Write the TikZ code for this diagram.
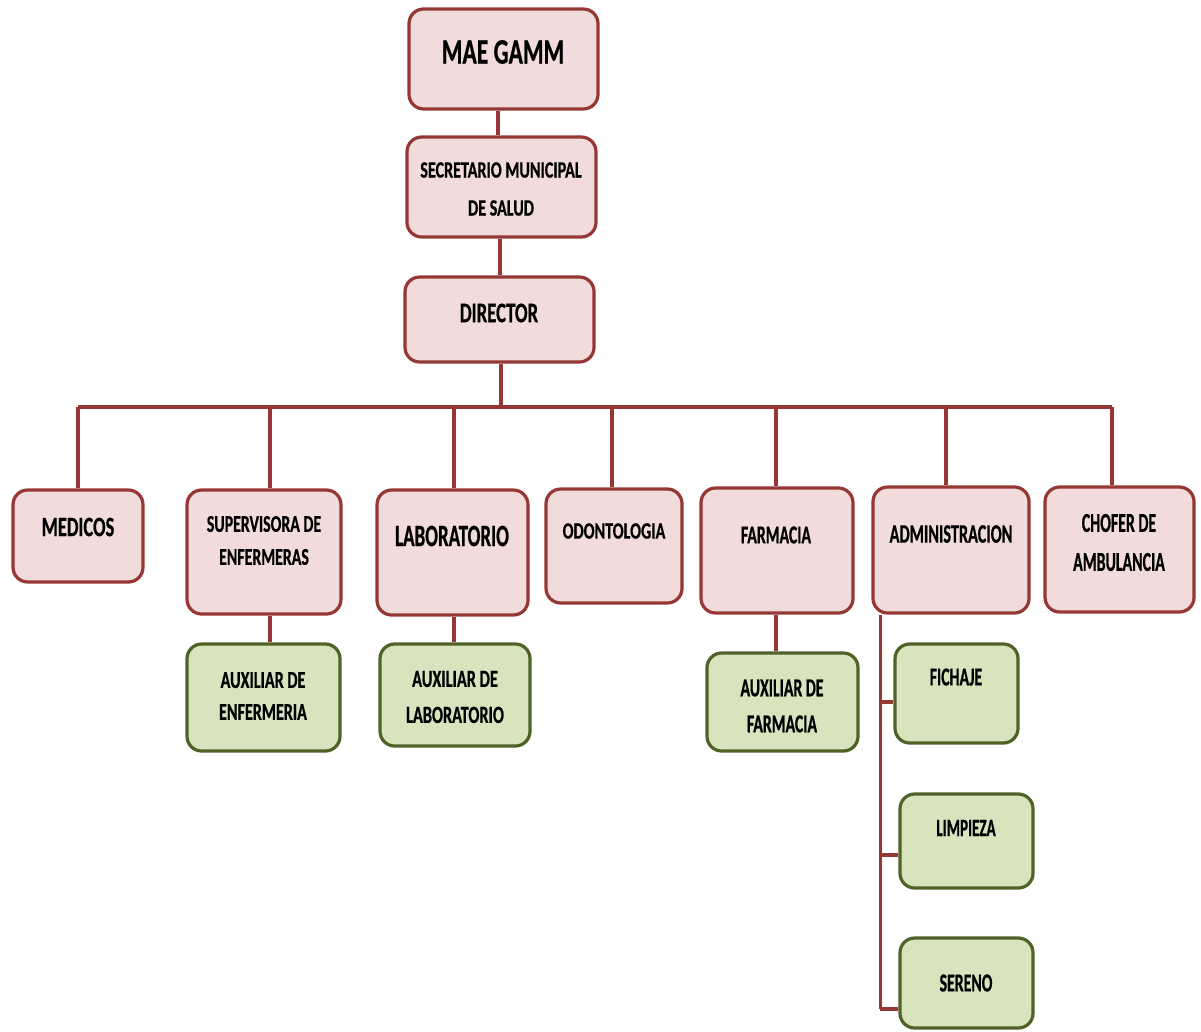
\documentclass[tikz,border=0pt]{standalone}
\usepackage{fontspec}
\newfontfamily\cfA{Carlito}[FakeStretch=0.58, BoldFeatures={FakeBold=0.6}]
\newfontfamily\cfB{Carlito}[FakeStretch=0.61, BoldFeatures={FakeBold=0.6}]
\newfontfamily\cfC{Carlito}[FakeStretch=0.66, BoldFeatures={FakeBold=0.6}]
\newfontfamily\cfD{Carlito}[FakeStretch=0.69, BoldFeatures={FakeBold=0.6}]
\usetikzlibrary{calc}
\definecolor{dred}{HTML}{953735}
\definecolor{pinkf}{HTML}{F2DCDB}
\definecolor{grnf}{HTML}{D7E4BD}
\definecolor{grnd}{HTML}{4F6228}
\begin{document}
\begin{tikzpicture}[x=0.75pt,y=-0.75pt,
 box/.style={rounded corners=11pt, line width=2.4pt, inner sep=0pt},
 pinkbox/.style={box, draw=dred, fill=pinkf},
 greenbox/.style={box, draw=grnd, fill=grnf},
 wh/.style 2 args={minimum width=#1*0.75pt, minimum height=#2*0.75pt},
 lbl/.style n args={3}{inner sep=0pt, align=center, font=#1\bfseries\fontsize{#2}{#3}\selectfont},
 conn/.style={draw=dred, line width=2.4pt},
 tickline/.style={draw=dred, line width=3.6pt},
]
\useasboundingbox (0,0) rectangle (1201,1031);

\coordinate (busL) at (78,407);
\coordinate (busR) at (1112,407);

% boxes
\node[pinkbox, wh={189}{100}] (mae) at (503.5,59) {};
\node[pinkbox, wh={189}{100}] (sec) at (501.5,187) {};
\node[pinkbox, wh={189}{85}] (dir) at (499.5,319.5) {};
\node[pinkbox, wh={130}{92}] (med) at (78,536) {};
\node[pinkbox, wh={154}{124}] (sup) at (264,552) {};
\node[pinkbox, wh={151}{125}] (lab) at (452.5,552.5) {};
\node[pinkbox, wh={136}{114}] (odo) at (614,546) {};
\node[pinkbox, wh={152}{125}] (far) at (777,550.5) {};
\node[pinkbox, wh={156}{126}] (adm) at (951,550) {};
\node[pinkbox, wh={149}{125}] (cho) at (1119.5,549.5) {};
\node[greenbox, wh={153}{107}] (aen) at (263.5,697.5) {};
\node[greenbox, wh={150}{102}] (ala) at (455,695) {};
\node[greenbox, wh={151}{98}] (afa) at (782.5,702) {};
\node[greenbox, wh={123}{99}] (fic) at (956.5,693.5) {};
\node[greenbox, wh={133}{94}] (lim) at (966.5,841) {};
\node[greenbox, wh={133}{90}] (ser) at (966.5,983) {};

% connectors
\draw[conn] ([xshift=-4.1pt]mae.south) -- ([xshift=-4.1pt]mae.south |- sec.north);
\draw[conn] ([xshift=-1.1pt]sec.south) -- ([xshift=-1.1pt]sec.south |- dir.north);
\draw[conn] ([xshift=1.1pt]dir.south) -- ([xshift=1.1pt]dir.south |- busL);
\draw[conn] (busL) -- (busR);
\draw[conn] (med.north |- busL) -- (med.north);
\draw[conn] ([xshift=4.5pt]sup.north |- busL) -- ([xshift=4.5pt]sup.north);
\draw[conn] ([xshift=1.1pt]lab.north |- busL) -- ([xshift=1.1pt]lab.north);
\draw[conn] ([xshift=-1.5pt]odo.north |- busL) -- ([xshift=-1.5pt]odo.north);
\draw[conn] ([xshift=-0.75pt]far.north |- busL) -- ([xshift=-0.75pt]far.north);
\draw[conn] ([xshift=-3.75pt]adm.north |- busL) -- ([xshift=-3.75pt]adm.north);
\draw[conn] (busR) -- (busR |- cho.north);
\draw[conn] ([xshift=4.5pt]sup.south) -- ([xshift=4.5pt]sup.south |- aen.north);
\draw[conn] ([xshift=1.1pt]lab.south) -- ([xshift=1.1pt]lab.south |- ala.north);
\draw[conn] ([xshift=-0.75pt]far.south) -- ([xshift=-0.75pt]far.south |- afa.north);
\coordinate (rail) at ($(adm.south west)+(9,0)$);
\coordinate (railend) at ($(rail |- ser.west)+(0,26)$);
\draw[conn] (rail) -- (railend);
\draw[tickline] ($(rail |- fic.west)+(0,8.5)$) -- ($(fic.west)+(0,8.5)$);
\draw[tickline] ($(rail |- lim.west)+(0,14)$) -- ($(lim.west)+(0,14)$);
\draw[tickline] (railend) -- ($(ser.west)+(0,26)$);

% texts
\node[lbl={\cfC}{26.8}{30}] (mae-t) at (503,52) {MAE GAMM};
\node[lbl={\cfD}{17.5}{28.5}] (sec-t) at (501,189) {SECRETARIO MUNICIPAL\\DE SALUD};
\node[lbl={\cfC}{21.3}{24}] (dir-t) at (499,313) {DIRECTOR};
\node[lbl={\cfC}{21}{24}] (med-t) at (78,527) {MEDICOS};
\node[lbl={\cfC}{18}{24.75}] (sup-t) at (264,540.5) {SUPERVISORA DE\\ENFERMERAS};
\node[lbl={\cfB}{23.3}{26}] (lab-t) at (452,536) {LABORATORIO};
\node[lbl={\cfD}{17.5}{20}] (odo-t) at (614,531) {ODONTOLOGIA};
\node[lbl={\cfB}{19.4}{22}] (far-t) at (776,535) {FARMACIA};
\node[lbl={\cfB}{20}{22}] (adm-t) at (951,534) {ADMINISTRACION};
\node[lbl={\cfA}{20.5}{29.25}] (cho-t) at (1119,542.5) {CHOFER DE\\AMBULANCIA};
\node[lbl={\cfC}{18.3}{24}] (aen-t) at (263,696) {AUXILIAR DE\\ENFERMERIA};
\node[lbl={\cfC}{18.5}{27}] (ala-t) at (455,697) {AUXILIAR DE\\LABORATORIO};
\node[lbl={\cfB}{19.4}{27}] (afa-t) at (782,706) {AUXILIAR DE\\FARMACIA};
\node[lbl={\cfB}{19.4}{22}] (fic-t) at (956,677) {FICHAJE};
\node[lbl={\cfB}{18.6}{22}] (lim-t) at (966,828) {LIMPIEZA};
\node[lbl={\cfB}{19.4}{22}] (ser-t) at (966,983) {SERENO};
\end{tikzpicture}
\end{document}
